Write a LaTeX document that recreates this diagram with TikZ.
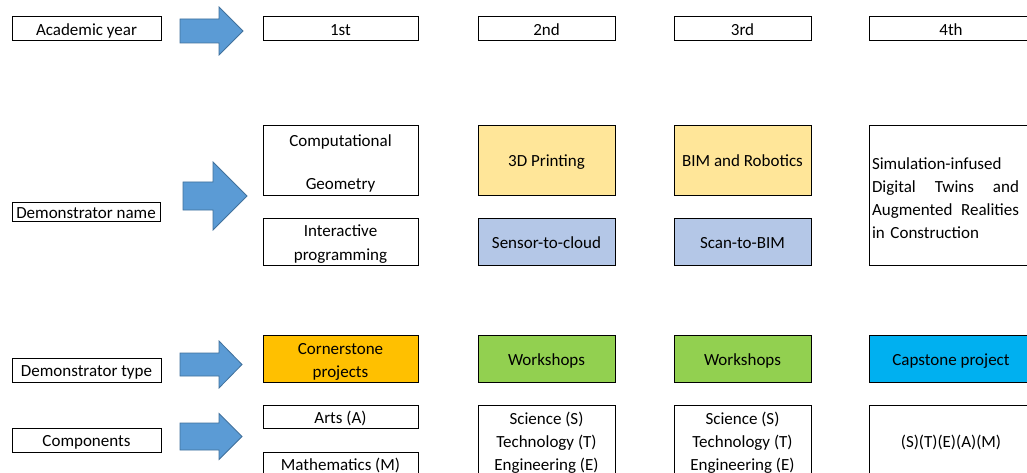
\documentclass[tikz,border=0pt]{standalone}
\usepackage{fontspec}
\setmainfont{Carlito}
\definecolor{arrowblue}{HTML}{5B9BD5}
\definecolor{arrowedge}{HTML}{41719C}
\definecolor{lightyellow}{HTML}{FFE699}
\definecolor{lightblue}{HTML}{B4C7E7}
\definecolor{orangefill}{HTML}{FFC000}
\definecolor{greenfill}{HTML}{92D050}
\definecolor{cyanfill}{HTML}{00B0F0}
\newcommand\blockarr[6]{%
  \draw[blockarrow] (#1,#4-#5) -- (#2,#4-#5) -- (#2,#4-#6) -- (#3,#4) -- (#2,#4+#6) -- (#2,#4+#5) -- (#1,#4+#5) -- cycle;}
\newcommand\tstrut{\rule{0pt}{17pt}}
\newcommand\sstrut{\rule{0pt}{15pt}}
\newcommand\fullline[1]{\leavevmode\hbox to 147pt{#1}}
\begin{document}
\begin{tikzpicture}[x=1pt,y=-1pt,
  box/.style={draw=black, line width=1pt, rectangle, inner sep=0pt, align=center, font=\fontsize{17}{23}\selectfont},
  one/.style={text height=14pt, text depth=1pt},
  lab/.style={box, one, minimum width=149pt, minimum height=24pt},
  colA/.style={minimum width=155pt},
  colB/.style={minimum width=137pt},
  colD/.style={minimum width=164pt},
  blockarrow/.style={fill=arrowblue, draw=arrowedge, line width=0.8pt}]
\useasboundingbox (0,0) rectangle (1027,473);
\fill[white] (0,0) rectangle (1027,473);
\clip (0,0) rectangle (1027,473);

% Row 1: academic year
\node[lab] (ay) at (86.5,29) {Academic year};
\node[box,one,colA,minimum height=24pt] (y1) at (340.5,29) {1st};
\node[box,one,colB,minimum height=24pt] (y2) at (546.5,29) {2nd};
\node[box,one,colB,minimum height=24pt] (y3) at (742.5,29) {3rd};
\node[box,one,colD,minimum height=24pt] (y4) at (951,29) {4th};
\blockarr{180}{219}{243}{31}{12}{24}

% Row 2: demonstrator name
\node[box,one,minimum width=148pt,minimum height=19pt] (dn) at (86,212) {Demonstrator name};
\node[box,colA,minimum height=69pt] (cg) at (340.5,160.5) {\tstrut Computational\\[20pt]Geometry};
\node[box,colA,minimum height=47pt] (ip) at (340.5,241.5) {\tstrut Interactive\\[1pt]programming};
\node[box,one,colB,minimum height=69pt,fill=lightyellow] (p3d) at (546.5,160.5) {3D Printing};
\node[box,one,colB,minimum height=47pt,fill=lightblue] (s2c) at (546.5,241.5) {Sensor-to-cloud};
\node[box,one,colB,minimum height=69pt,fill=lightyellow] (bim) at (742.5,160.5) {BIM and Robotics};
\node[box,one,colB,minimum height=47pt,fill=lightblue] (s2b) at (742.5,241.5) {Scan-to-BIM};
\node[box,align=left,text width=158pt,inner xsep=3pt,minimum height=139pt] (sim) at (951,195.5)
  {\fullline{\tstrut Simulation-infused\hfil}\\
   \fullline{Digital\hfill Twins\hfill and}\\
   \fullline{Augmented\hfill Realities}\\
   \fullline{in Construction\hfil}};
\blockarr{183}{213}{247}{196}{14}{34}

% Row 3: demonstrator type
\node[lab] (dt) at (86.5,370) {Demonstrator type};
\node[box,colA,minimum height=47pt,fill=orangefill] (cs) at (340.5,358.5) {\tstrut Cornerstone\\projects};
\node[box,one,colB,minimum height=47pt,fill=greenfill] (ws2) at (546.5,358.5) {Workshops};
\node[box,one,colB,minimum height=47pt,fill=greenfill] (ws3) at (742.5,358.5) {Workshops};
\node[box,one,colD,minimum height=47pt,fill=cyanfill] (cap) at (951,358.5) {Capstone project};
\blockarr{180}{219}{242}{364.5}{11.5}{23.5}

% Row 4: components
\node[lab] (comp) at (86.5,440) {Components};
\node[box,one,colA,minimum height=23pt] (arts) at (340.5,416.5) {Arts (A)};
\node[box,one,colA,minimum height=24pt] (math) at (340.5,464) {Mathematics (M)};
\node[box,colB,minimum height=72pt] (sci2) at (546.5,441) {\sstrut Science (S)\\Technology (T)\\Engineering (E)};
\node[box,colB,minimum height=72pt] (sci3) at (742.5,441) {\sstrut Science (S)\\Technology (T)\\Engineering (E)};
\node[box,one,colD,minimum height=72pt] (steam) at (951,441) {(S)(T)(E)(A)(M)};
\blockarr{180}{219}{242}{436.5}{13.5}{23}
\end{tikzpicture}
\end{document}
